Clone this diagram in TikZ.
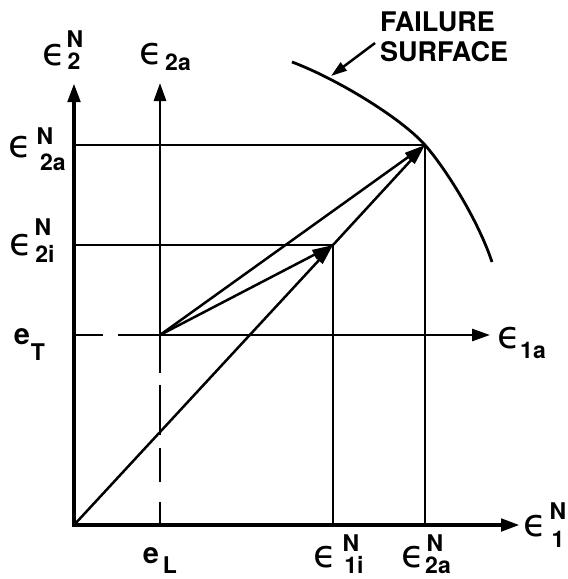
\documentclass[tikz,border=0pt]{standalone}
\usepackage{fontspec}
\setmainfont{TeX Gyre Heros}
\newfontfamily\epsfam{DejaVu Sans}
\usetikzlibrary{arrows.meta}
\begin{document}
\begin{tikzpicture}[x=1pt,y=-1pt,
 axisline/.style={line width=4.5pt,-{Triangle[length=19pt,width=12pt]}},
 axisthin/.style={line width=2.8pt,-{Triangle[length=18pt,width=12pt]}},
 guide/.style={line width=2.8pt},
 vec/.style={line width=2.5pt,-{Triangle[length=21pt,width=10pt]}},
 ptr/.style={line width=2.5pt,-{Triangle[length=16pt,width=10pt]}},
 epsstyle/.style={inner sep=0pt,font=\epsfam\fontsize{38}{38}\selectfont},
 letstyle/.style={inner sep=0pt,font=\bfseries\fontsize{23}{23}\selectfont},
 estyle/.style={inner sep=0pt,font=\bfseries\fontsize{29}{29}\selectfont},
 capstyle/.style={inner sep=0pt,font=\bfseries\fontsize{27}{30}\selectfont,align=left}
]
\useasboundingbox (0,0) rectangle (568,579);
% key points
\coordinate (O) at (74,525);
\coordinate (A) at (425,145);
\coordinate (B) at (333,245);
\coordinate (C) at (160,335);
\coordinate (ytip) at (74,83);
\coordinate (xtip) at (520,525);
\coordinate (y2tip) at (160,83);
\coordinate (x1tip) at (490,335);
\coordinate (yA) at (74,145);
\coordinate (yB) at (74,245);
\coordinate (yC) at (74,335);
\coordinate (xA) at (425,525);
\coordinate (xB) at (333,525);
\coordinate (xC) at (160,525);
\coordinate (Ostart) at (74,527);
\coordinate (Ohstart) at (72,525);
% main axes
\draw[axisline] (Ostart) -- (ytip);
\draw[axisline] (Ohstart) -- (xtip);
% shifted axes
\draw[axisthin] (C) -- (y2tip);
\draw[axisthin] (C) -- (x1tip);
\draw[guide,dash pattern=on 38pt off 12pt on 50pt off 13pt on 34pt off 20pt] (C) -- (xC);
\draw[guide,dash pattern=on 42pt off 15pt] (C) -- (yC);
% guide lines
\draw[guide] (yA) -- (A) -- (xA);
\draw[guide] (yB) -- (B) -- (xB);
% vectors
\draw[vec] (O) -- (B);
\draw[vec] (B) -- (A);
\draw[vec] (C) -- (B);
\draw[vec] (C) -- (A);
% failure surface
\coordinate (fs1) at (292,62);
\coordinate (fs3) at (492,262);
\coordinate (fsp) at (331,76);
\draw[line width=2.8pt] (fs1) .. controls (335,78) and (400,117) .. (A)
  .. controls (446,169) and (478,220) .. (fs3);
\node[capstyle,anchor=north west] (fs) at (380,12) {FAILURE\\SURFACE};
\coordinate (ptrstart) at (375,43);
\draw[ptr] (ptrstart) -- (fsp);
% labels
\node[epsstyle] (l1e) at (54,55) {ϵ};
\node[letstyle] (l1n) at (75,39) {N};
\node[letstyle] (l1s) at (74,61) {2};
\node[epsstyle] (l2e) at (151,54) {ϵ};
\node[letstyle] (l2s) at (178,62) {2a};
\node[epsstyle] (l3e) at (20,147) {ϵ};
\node[letstyle] (l3n) at (45,136) {N};
\node[letstyle] (l3s) at (53,162) {2a};
\node[epsstyle] (l4e) at (21,245) {ϵ};
\node[letstyle] (l4n) at (43,227) {N};
\node[letstyle] (l4s) at (45,254) {2i};
\node[estyle] (l5e) at (22,337) {e};
\node[letstyle] (l5s) at (38,352) {T};
\node[epsstyle] (l6e) at (509,338) {ϵ};
\node[letstyle] (l6s) at (533,350) {1a};
\node[epsstyle] (l7e) at (535,526) {ϵ};
\node[letstyle] (l7n) at (558,511) {N};
\node[letstyle] (l7s) at (558,539) {1};
\node[estyle] (l8e) at (151,556) {e};
\node[letstyle] (l8s) at (170,565) {L};
\node[epsstyle] (l9e) at (325,557) {ϵ};
\node[letstyle] (l9n) at (351,543) {N};
\node[letstyle] (l9s) at (354,565) {1i};
\node[epsstyle] (l10e) at (413,557) {ϵ};
\node[letstyle] (l10n) at (435,543) {N};
\node[letstyle] (l10s) at (438,565) {2a};
\end{tikzpicture}
\end{document}
